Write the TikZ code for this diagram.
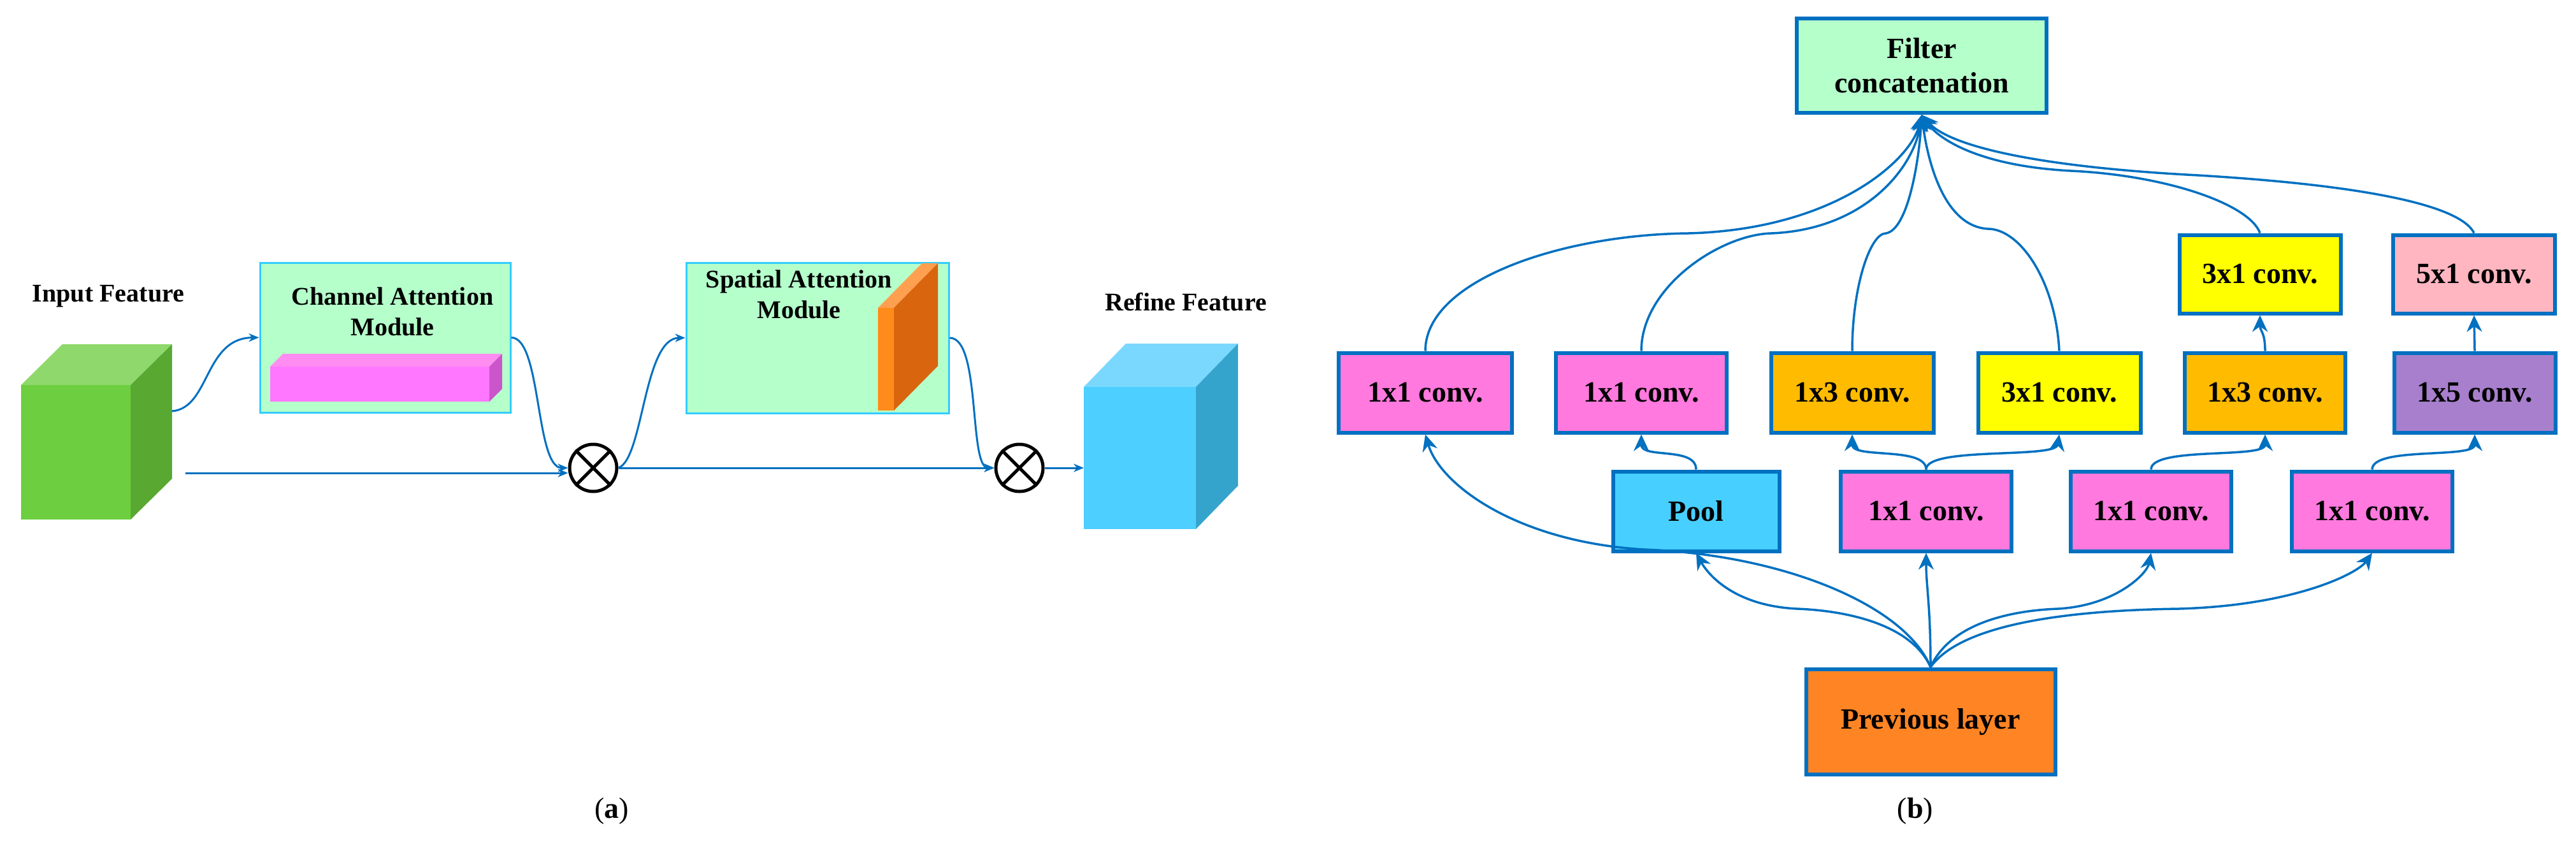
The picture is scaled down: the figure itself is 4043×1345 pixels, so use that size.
\documentclass[tikz,border=0pt]{standalone}
\usepackage{fontspec}
\setmainfont{Liberation Serif}
\usetikzlibrary{arrows.meta}
\definecolor{bl}{HTML}{0070C0}
\definecolor{mint}{HTML}{B5FFCB}
\definecolor{pk}{HTML}{FF79DE}
\definecolor{og}{HTML}{FFBB00}
\definecolor{yl}{HTML}{FFFF00}
\definecolor{lp}{HTML}{FFB6C1}
\definecolor{pu}{HTML}{A77FCC}
\definecolor{cy}{HTML}{47CFFF}
\definecolor{orn}{HTML}{FF8424}
\newcommand\bfbig{\fontsize{46}{54}\selectfont\bfseries}
\newcommand\bfmid{\fontsize{40}{48}\selectfont\bfseries}
\begin{document}
\begin{tikzpicture}[x=1pt,y=-1pt,
  box/.style={draw=bl,line width=6pt,inner sep=0pt,minimum height=125pt,font=\bfbig},
  con/.style={draw=bl,line width=3.5pt,-{Stealth[length=26pt,width=24pt]}},
  cona/.style={draw=bl,line width=3pt,-{Stealth[length=16pt,width=13pt]}},
  otim/.style={circle,draw=black,line width=5pt,minimum size=74pt,inner sep=0pt},
  lab/.style={font=\bfmid,align=center,inner sep=0pt}]
\useasboundingbox (0,0) rectangle (4043,1345);
% ---------- panel (a)
% green cube
\fill[fill={rgb,255:red,143;green,216;blue,107}] (33,604) -- (98,540) -- (270,540) -- (205,604) -- cycle;
\fill[fill={rgb,255:red,88;green,168;blue,50}] (205,604) -- (270,540) -- (270,751) -- (205,815) -- cycle;
\fill[fill={rgb,255:red,109;green,207;blue,63}] (33,604) rectangle (205,815);
\coordinate (cubeout) at (270,645);
\coordinate (cubebot) at (291,742);
% CAM
\node[draw={rgb,255:red,51;green,204;blue,255},line width=3pt,fill=mint,minimum width=393pt,minimum height=235pt,inner sep=0pt] (cam) at (604.5,529.5) {};
\fill[fill={rgb,255:red,255;green,140;blue,240}] (424,575) -- (444,555) -- (788,555) -- (768,575) -- cycle;
\fill[fill={rgb,255:red,204;green,85;blue,204}] (768,575) -- (788,555) -- (788,610) -- (768,630) -- cycle;
\fill[fill={rgb,255:red,255;green,119;blue,255}] (424,575) rectangle (768,630);
\node[lab] (camt) at (616,489) {Channel Attention\\Module};
% SAM
\node[draw={rgb,255:red,51;green,204;blue,255},line width=3pt,fill=mint,minimum width=412pt,minimum height=236pt,inner sep=0pt] (sam) at (1283,530) {};
\fill[fill={rgb,255:red,255;green,160;blue,80}] (1378,483) -- (1447,413) -- (1472,413) -- (1403,483) -- cycle;
\fill[fill={rgb,255:red,217;green,101;blue,15}] (1403,483) -- (1472,413) -- (1472,574) -- (1403,644) -- cycle;
\fill[fill={rgb,255:red,255;green,140;blue,26}] (1378,483) rectangle (1403,644);
\node[lab] (samt) at (1254,462) {Spatial Attention\\Module};
% blue cube
\fill[fill={rgb,255:red,122;green,216;blue,255}] (1701,607) -- (1767,539) -- (1943,539) -- (1877,607) -- cycle;
\fill[fill={rgb,255:red,53;green,164;blue,204}] (1877,607) -- (1943,539) -- (1943,762) -- (1877,830) -- cycle;
\fill[fill={rgb,255:red,77;green,207;blue,255}] (1701,607) rectangle (1877,830);
\coordinate (cubein) at (1701,734);
\node[lab] (inf) at (170,465) {Input Feature};
\node[lab] (ref) at (1861,474) {Refine Feature};
\node[otim] (o1) at (931,734) {};
\node[otim] (o2) at (1600,734) {};
\foreach \o in {o1,o2}{\draw[line width=5pt] (\o.north west) -- (\o.south east) (\o.north east) -- (\o.south west);}
\draw[cona] (cubeout) .. controls (330,640) and (320,530) .. (cam.west);
\draw[cona] (cubebot) -- (cubebot -| o1.west);
\draw[cona] (cam.east) .. controls (850,530) and (840,734) .. (o1.west);
\draw[cona] (o1.east) .. controls (1010,720) and (1010,530) .. (sam.west);
\draw[cona] (sam.east) .. controls (1540,530) and (1520,734) .. (o2.west);
\draw[cona] (o1.east) -- (o2.west);
\draw[cona] (o2.east) -- (cubein);
\node[font=\fontsize{46}{54}\selectfont] (la) at (960,1272) {(\textbf{a})};
% ---------- panel (b)
\node[box,fill=mint,minimum width=392pt,minimum height=148pt,align=center] (fc) at (3016,103) {Filter\\concatenation};
\node[box,fill=pk,minimum width=272pt] (A) at (2237,616) {1x1 conv.};
\node[box,fill=pk,minimum width=268pt] (B) at (2576,616) {1x1 conv.};
\node[box,fill=og,minimum width=255pt] (C) at (2907,616) {1x3 conv.};
\node[box,fill=yl,minimum width=255pt] (D) at (3232,616) {3x1 conv.};
\node[box,fill=og,minimum width=252pt] (E) at (3555,616) {1x3 conv.};
\node[box,fill=pu,minimum width=253pt] (F) at (3884,616) {1x5 conv.};
\node[box,fill=yl,minimum width=253pt,minimum height=123pt] (G) at (3547,430) {3x1 conv.};
\node[box,fill=lp,minimum width=254pt,minimum height=123pt] (H) at (3883,430) {5x1 conv.};
\node[box,fill=cy,minimum width=261pt] (pool) at (2662,802) {Pool};
\node[box,fill=pk,minimum width=268pt] (P1) at (3023,802) {1x1 conv.};
\node[box,fill=pk,minimum width=252pt] (P2) at (3376,802) {1x1 conv.};
\node[box,fill=pk,minimum width=252pt] (P3) at (3723,802) {1x1 conv.};
\node[box,fill=orn,minimum width=391pt,minimum height=165pt] (prev) at (3030,1132) {Previous layer};
% to filter concatenation
\draw[con] (A.north) .. controls (2237,440) and (2450,368) .. (2650,366) .. controls (2880,360) and (3000,250) .. (fc.south);
\draw[con] (B.north) .. controls (2576,450) and (2700,368) .. (2780,366) .. controls (2930,360) and (3005,260) .. (fc.south);
\draw[con] (C.north) .. controls (2907,450) and (2935,366) .. (2960,366) .. controls (2995,360) and (3012,250) .. (fc.south);
\draw[con] (D.north) .. controls (3226,440) and (3170,359) .. (3120,359) .. controls (3050,355) and (3025,250) .. (fc.south);
\draw[con] (G.north) .. controls (3530,320) and (3400,275) .. (3250,268) .. controls (3100,260) and (3040,215) .. (fc.south);
\draw[con] (H.north) .. controls (3860,320) and (3700,290) .. (3450,275) .. controls (3200,262) and (3060,230) .. (fc.south);
% from previous layer
\draw[con] (prev.north) .. controls (2990,950) and (2800,870) .. (2580,862) .. controls (2380,850) and (2260,760) .. (A.south);
\draw[con] (prev.north) .. controls (3000,980) and (2900,958) .. (2820,955) .. controls (2720,950) and (2680,900) .. (pool.south);
\draw[con] (prev.north) .. controls (3030,950) and (3023,920) .. (P1.south);
\draw[con] (prev.north) .. controls (3060,980) and (3150,958) .. (3230,955) .. controls (3320,950) and (3370,900) .. (P2.south);
\draw[con] (prev.north) .. controls (3070,990) and (3200,958) .. (3420,955) .. controls (3600,950) and (3700,900) .. (P3.south);
% middle links
\draw[con] (pool.north) .. controls (2662,700) and (2576,720) .. (B.south);
\draw[con] (P1.north) .. controls (3023,700) and (2907,720) .. (C.south);
\draw[con] (P1.north) .. controls (3023,700) and (3226,720) .. (D.south);
\draw[con] (P2.north) .. controls (3376,700) and (3555,720) .. (E.south);
\draw[con] (P3.north) .. controls (3723,700) and (3884,720) .. (F.south);
\draw[con] (E.north) .. controls (3555,520) and (3547,520) .. (G.south);
\draw[con] (F.north) -- (H.south);
\node[font=\fontsize{46}{54}\selectfont] (lb) at (3006,1272) {(\textbf{b})};
\end{tikzpicture}
\end{document}
